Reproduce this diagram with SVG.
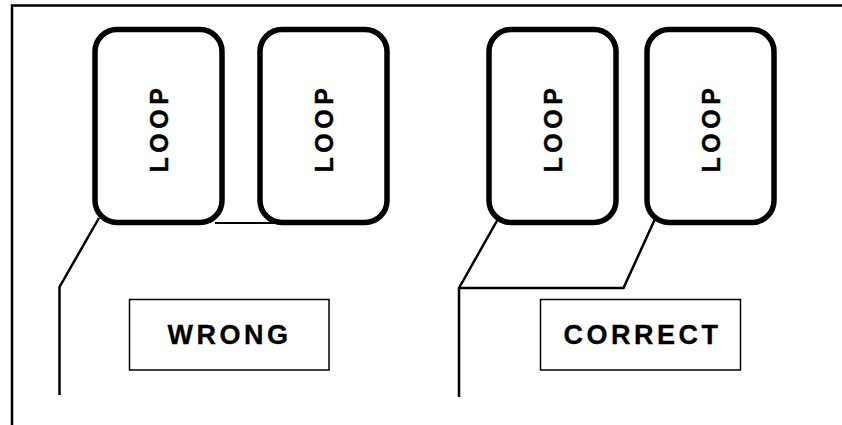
<svg xmlns="http://www.w3.org/2000/svg" width="842" height="425" viewBox="0 0 842 425">
<style>
.loop{fill:#fff;stroke:#000;stroke-width:5.5}
.lbl{fill:#fff;stroke:#000;stroke-width:1.5}
.wire{fill:none;stroke:#000;stroke-width:2.5;stroke-linejoin:miter}
.thin{fill:none;stroke:#000;stroke-width:2}
.lt{font-family:"Liberation Sans",Arial,sans-serif;font-weight:bold;font-size:25px;letter-spacing:4.5px;text-anchor:middle;fill:#000;stroke:#000;stroke-width:0.4}
.bt{font-family:"Liberation Sans",Arial,sans-serif;font-weight:bold;font-size:27px;letter-spacing:3.5px;text-anchor:middle;fill:#000;stroke:#000;stroke-width:0.3}
</style>
<rect width="842" height="425" fill="#fff"/>
<path class="wire" d="M12 425 V5.5 H842"/>
<g id="connectors">
<path class="thin" d="M215 223 H278"/>
<path class="wire" d="M99 218 L59.5 287 V395"/>
<path class="wire" d="M498 219 L459 288 V397"/>
<path class="wire" d="M459 288 H623.5 L655 219"/>
</g>
<g id="loop1">
<rect class="loop" x="95" y="29.5" width="127" height="193" rx="22"/>
<text class="lt" transform="translate(168,128) rotate(-90)">LOOP</text>
</g>
<g id="loop2">
<rect class="loop" x="260" y="29.5" width="127" height="193" rx="22"/>
<text class="lt" transform="translate(333,128) rotate(-90)">LOOP</text>
</g>
<g id="loop3">
<rect class="loop" x="489" y="29.5" width="127" height="193" rx="22"/>
<text class="lt" transform="translate(561.5,128) rotate(-90)">LOOP</text>
</g>
<g id="loop4">
<rect class="loop" x="647" y="29.5" width="127" height="193" rx="22"/>
<text class="lt" transform="translate(719.5,128) rotate(-90)">LOOP</text>
</g>
<g id="wrong">
<rect class="lbl" x="129.5" y="299.5" width="199.5" height="70.5"/>
<text class="bt" x="229.5" y="344">WRONG</text>
</g>
<g id="correct">
<rect class="lbl" x="540.5" y="299.5" width="200" height="70.5"/>
<text class="bt" x="642.5" y="344">CORRECT</text>
</g>
</svg>
